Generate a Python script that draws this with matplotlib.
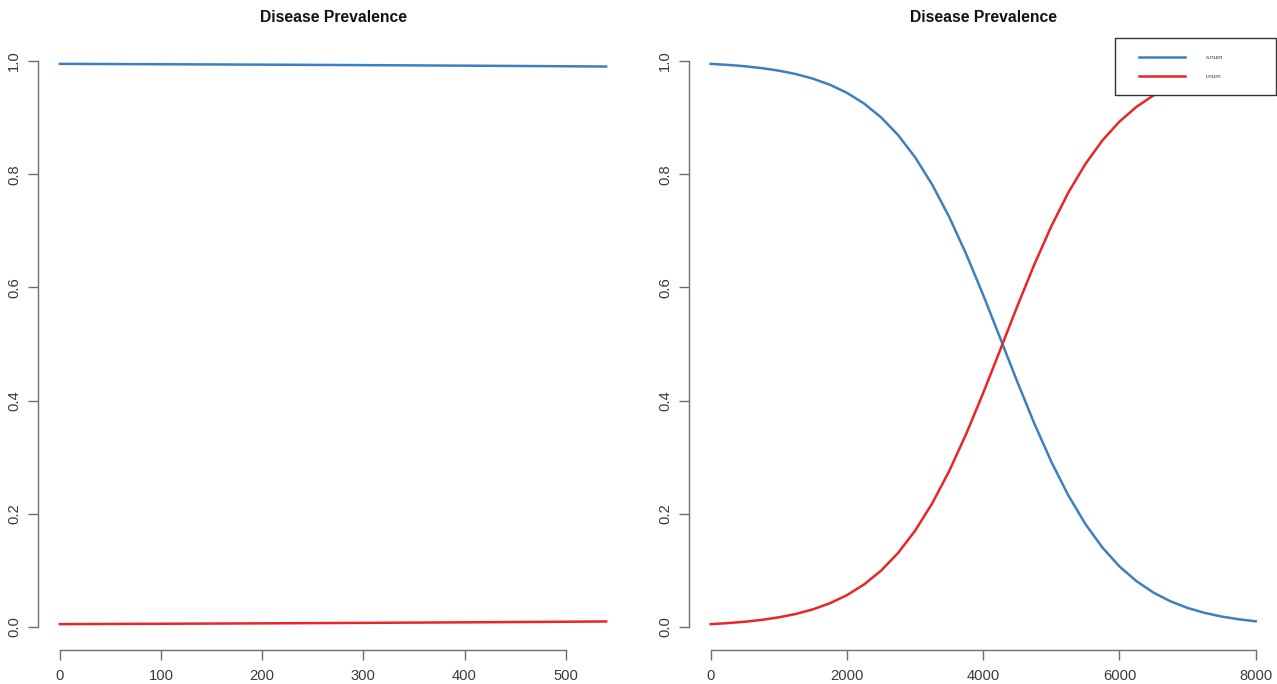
import matplotlib
matplotlib.use("Agg")
import matplotlib.pyplot as plt
from matplotlib.patches import Rectangle

plt.rcParams['font.family'] = ['Liberation Sans', 'DejaVu Sans']

# ---- data ----
title_text = "Disease Prevalence"
series_names = ["s.num", "i.num"]
series_colors = ["#3C80BE", "#E8262A"]

# left panel: first 540 time steps
left_t = [0, 60, 120, 180, 240, 300, 360, 420, 480, 540]
left_i = [0.00500, 0.00538, 0.00580, 0.00624, 0.00671, 0.00723,
          0.00778, 0.00837, 0.00901, 0.00970]
left_s = [0.99500, 0.99462, 0.99420, 0.99376, 0.99329, 0.99277,
          0.99222, 0.99163, 0.99099, 0.99030]

# right panel: 8000 time steps
right_t = [0, 250, 500, 750, 1000, 1250, 1500, 1750, 2000, 2250, 2500,
           2750, 3000, 3250, 3500, 3750, 4000, 4250, 4500, 4750, 5000,
           5250, 5500, 5750, 6000, 6250, 6500, 6750, 7000, 7250, 7500,
           7750, 8000]
right_i = [0.0050, 0.0068, 0.0092, 0.0125, 0.0170, 0.0230, 0.0311, 0.0419,
           0.0562, 0.0750, 0.0994, 0.1307, 0.1700, 0.2181, 0.2753, 0.3410,
           0.4134, 0.4898, 0.5666, 0.6404, 0.7081, 0.7676, 0.8181, 0.8597,
           0.8930, 0.9191, 0.9393, 0.9547, 0.9664, 0.9751, 0.9816, 0.9864,
           0.9900]
right_s = [0.9950, 0.9932, 0.9908, 0.9875, 0.9830, 0.9770, 0.9689, 0.9581,
           0.9438, 0.9250, 0.9006, 0.8693, 0.8300, 0.7819, 0.7247, 0.6590,
           0.5866, 0.5102, 0.4334, 0.3596, 0.2919, 0.2324, 0.1819, 0.1403,
           0.1070, 0.0809, 0.0607, 0.0453, 0.0336, 0.0249, 0.0184, 0.0136,
           0.0100]

left_xticks = [0, 100, 200, 300, 400, 500]
right_xticks = [0, 2000, 4000, 6000, 8000]
yticks = [0.0, 0.2, 0.4, 0.6, 0.8, 1.0]
ytick_labels = ["0.0", "0.2", "0.4", "0.6", "0.8", "1.0"]

W, H = 1277, 684
fig = plt.figure(figsize=(W / 100, H / 100), dpi=100)


def px_axes(x0, y0, x1, y1):
    return fig.add_axes([x0 / W, 1 - y1 / H, (x1 - x0) / W, (y1 - y0) / H])


def style(ax, t, xticks):
    tmin, tmax = min(t), max(t)
    pad = 0.04 * (tmax - tmin)
    ax.set_xlim(tmin - pad, tmax + pad)
    ax.set_ylim(-0.04, 1.04)
    for side in ("top", "right"):
        ax.spines[side].set_visible(False)
    for side in ("left", "bottom"):
        ax.spines[side].set_color("#6e6e6e")
        ax.spines[side].set_linewidth(1.0)
    ax.spines["left"].set_bounds(yticks[0], yticks[-1])
    ax.spines["bottom"].set_bounds(xticks[0], xticks[-1])
    ax.set_xticks(xticks)
    ax.set_xticklabels([str(v) for v in xticks])
    ax.set_yticks(yticks)
    ax.set_yticklabels(ytick_labels)
    ax.tick_params(axis="both", length=7, width=1.0, color="#6e6e6e",
                   labelsize=10.6, labelcolor="#3a3a3a")
    ax.tick_params(axis="x", pad=7)
    ax.tick_params(axis="y", pad=5)
    for lab in ax.get_yticklabels():
        lab.set_rotation(90)
        lab.set_va("center")
        lab.set_ha("right")
    ax.set_title(title_text, fontsize=11.3, fontweight="bold", pad=12,
                 color="#111111")


axL = px_axes(38, 38.4, 628, 649.6)
axL.plot(left_t, left_s, color=series_colors[0], lw=1.8, label=series_names[0])
axL.plot(left_t, left_i, color=series_colors[1], lw=1.8, label=series_names[1])
style(axL, left_t, left_xticks)

axR = px_axes(688.9, 38.4, 1277.5, 649.6)
axR.plot(right_t, right_s, color=series_colors[0], lw=1.8, label=series_names[0])
axR.plot(right_t, right_i, color=series_colors[1], lw=1.8, label=series_names[1])
style(axR, right_t, right_xticks)

# legend box (R style, top-right of plot region)
box = Rectangle((1115 / W, 1 - 94.5 / H), 161 / W, 56.5 / H,
                transform=fig.transFigure, facecolor="white",
                edgecolor="#333333", linewidth=1.0, zorder=5, clip_on=False)
axR.add_patch(box)
leg = axR.legend(loc="upper left",
                 bbox_to_anchor=(1136 / W, 1 - 51.5 / H),
                 bbox_transform=fig.transFigure,
                 frameon=False, fontsize=4.6, borderpad=0,
                 handlelength=7.2, handletextpad=3.2, labelspacing=2.1)
leg.set_zorder(6)
for txt in leg.get_texts():
    txt.set_color("#444444")

fig.savefig("out.png", dpi=100)
